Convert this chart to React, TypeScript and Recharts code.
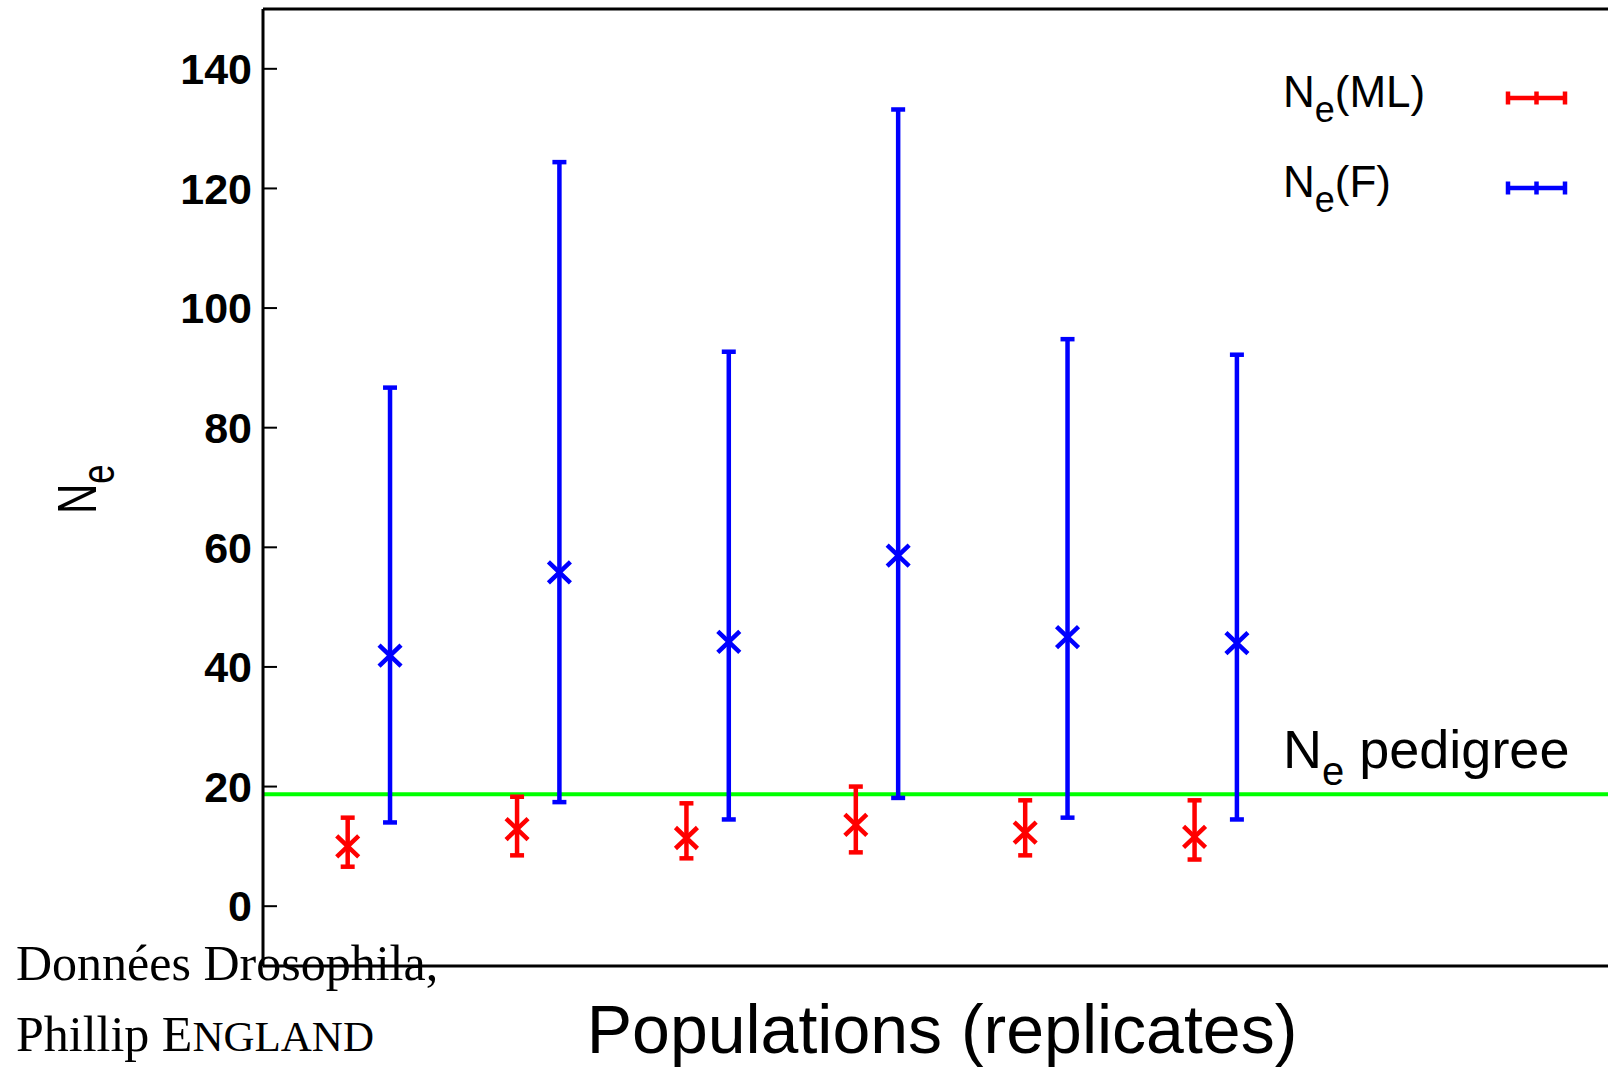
import React from 'react';
import { ComposedChart, Scatter, ErrorBar, XAxis, YAxis, ReferenceLine } from 'recharts';

// ---- data ----
const populations = [1, 2, 3, 4, 5, 6];
const mlValues = [10.0, 12.9, 11.4, 13.6, 12.3, 11.6];
const mlLow = [6.6, 8.5, 8.0, 9.0, 8.5, 7.8];
const mlHigh = [14.8, 18.3, 17.2, 20.0, 17.7, 17.7];
const fValues = [41.9, 55.8, 44.2, 58.6, 45.0, 44.0];
const fLow = [14.0, 17.4, 14.5, 18.1, 14.8, 14.5];
const fHigh = [86.7, 124.4, 92.7, 133.2, 94.8, 92.2];
const fOffset = 0.25;
const pedigreeNe = 18.7;
const yTicks = [0, 20, 40, 60, 80, 100, 120, 140];
const yDomain: [number, number] = [-10, 150];
const xDomain: [number, number] = [0.5, 8.5];

const RED = '#ff0000';
const BLUE = '#0000ff';
const GREEN = '#00ff00';
const SANS = '"Liberation Sans", Arial, Helvetica, sans-serif';
const SERIF = '"Liberation Serif", "Times New Roman", serif';

const mlData = populations.map((p, i) => ({
  x: p,
  y: mlValues[i],
  err: [mlValues[i] - mlLow[i], mlHigh[i] - mlValues[i]],
}));
const fData = populations.map((p, i) => ({
  x: p + fOffset,
  y: fValues[i],
  err: [fValues[i] - fLow[i], fHigh[i] - fValues[i]],
}));

const makeCross = (color: string) => (props: any) => {
  const { cx, cy } = props;
  if (cx == null || cy == null) return <g />;
  const w = 11;
  const h = 10.5;
  return (
    <path
      d={`M${cx - w},${cy - h}L${cx + w},${cy + h}M${cx - w},${cy + h}L${cx + w},${cy - h}`}
      stroke={color}
      strokeWidth={4.5}
      fill="none"
    />
  );
};

const PedigreeLabel = (props: any) => {
  const vb = props.viewBox || {};
  const x = (vb.x ?? 0) + 1020;
  const y = (vb.y ?? 0) - 26;
  return (
    <text x={x} y={y} fontFamily={SANS} fontSize={54} fill="#000">
      N
      <tspan fontSize={40} dy={17}>e</tspan>
      <tspan dy={-17}> pedigree</tspan>
    </text>
  );
};

const LegendSymbol = ({ x1, x2, y, color }: { x1: number; x2: number; y: number; color: string }) => {
  const mid = (x1 + x2) / 2;
  return (
    <g stroke={color} strokeWidth={4.5}>
      <line x1={x1} y1={y} x2={x2} y2={y} />
      <line x1={x1} y1={y - 6.5} x2={x1} y2={y + 6.5} />
      <line x1={x2} y1={y - 6.5} x2={x2} y2={y + 6.5} />
      <line x1={mid} y1={y - 6.5} x2={mid} y2={y + 6.5} />
    </g>
  );
};

export default function App() {
  return (
    <div
      style={{
        position: 'absolute',
        left: 0,
        top: 0,
        width: 1608,
        height: 1070,
        overflow: 'hidden',
        background: '#fff',
      }}
    >
      <ComposedChart
        width={1640}
        height={1070}
        margin={{ top: 8, right: 0, bottom: 103, left: 0 }}
      >
        <XAxis
          xAxisId="b"
          type="number"
          dataKey="x"
          domain={xDomain}
          orientation="bottom"
          height={1}
          tick={false}
          tickLine={false}
          axisLine={{ stroke: '#000', strokeWidth: 3 }}
        />
        <XAxis
          xAxisId="t"
          type="number"
          dataKey="x"
          domain={xDomain}
          orientation="top"
          height={1}
          tick={false}
          tickLine={false}
          axisLine={{ stroke: '#000', strokeWidth: 3 }}
        />
        <YAxis
          yAxisId="l"
          type="number"
          domain={yDomain}
          ticks={yTicks}
          orientation="left"
          width={263}
          interval={0}
          tickSize={-14}
          tickMargin={25}
          axisLine={{ stroke: '#000', strokeWidth: 3 }}
          tickLine={{ stroke: '#000', strokeWidth: 2 }}
          tick={{ fill: '#000', fontSize: 43, fontWeight: 'bold', fontFamily: SANS }}
        />
        <YAxis
          yAxisId="r"
          type="number"
          domain={yDomain}
          ticks={yTicks}
          orientation="right"
          width={22}
          interval={0}
          tickSize={-14}
          tick={false}
          axisLine={{ stroke: '#000', strokeWidth: 3 }}
          tickLine={{ stroke: '#000', strokeWidth: 2 }}
        />
        <ReferenceLine
          xAxisId="b"
          yAxisId="l"
          y={pedigreeNe}
          stroke={GREEN}
          strokeWidth={4}
          label={<PedigreeLabel />}
        />
        <Scatter
          xAxisId="b"
          yAxisId="l"
          data={mlData}
          dataKey="y"
          fill={RED}
          shape={makeCross(RED)}
          isAnimationActive={false}
        >
          <ErrorBar dataKey="err" direction="y" width={7} strokeWidth={4.5} stroke={RED} />
        </Scatter>
        <Scatter
          xAxisId="b"
          yAxisId="l"
          data={fData}
          dataKey="y"
          fill={BLUE}
          shape={makeCross(BLUE)}
          isAnimationActive={false}
        >
          <ErrorBar dataKey="err" direction="y" width={7} strokeWidth={4.5} stroke={BLUE} />
        </Scatter>
      </ComposedChart>
      <svg
        width={1608}
        height={1070}
        style={{ position: 'absolute', left: 0, top: 0, pointerEvents: 'none' }}
      >
        {/* legend */}
        <text x={1283} y={107} fontFamily={SANS} fontSize={44} fill="#000">
          N
          <tspan fontSize={36} dy={15}>e</tspan>
          <tspan dy={-15}>(ML)</tspan>
        </text>
        <LegendSymbol x1={1508} x2={1565} y={98} color={RED} />
        <text x={1283} y={197} fontFamily={SANS} fontSize={44} fill="#000">
          N
          <tspan fontSize={36} dy={15}>e</tspan>
          <tspan dy={-15}>(F)</tspan>
        </text>
        <LegendSymbol x1={1508} x2={1565} y={188} color={BLUE} />
        {/* y-axis title */}
        <text
          transform="translate(96,514) rotate(-90) scale(0.75,1)"
          fontFamily={SANS}
          fontSize={56}
          fill="#000"
        >
          N
          <tspan fontSize={46} dy={18}>e</tspan>
        </text>
        {/* x-axis title */}
        <text x={942} y={1053} textAnchor="middle" fontFamily={SANS} fontSize={68} fill="#000">
          Populations (replicates)
        </text>
        {/* source note */}
        <text x={16} y={980} fontFamily={SERIF} fontSize={50} fill="#000">
          Données Drosophila,
        </text>
        <text x={16} y={1051} fontFamily={SERIF} fontSize={50} fill="#000">
          Phillip E<tspan fontSize={43}>NGLAND</tspan>
        </text>
      </svg>
    </div>
  );
}
